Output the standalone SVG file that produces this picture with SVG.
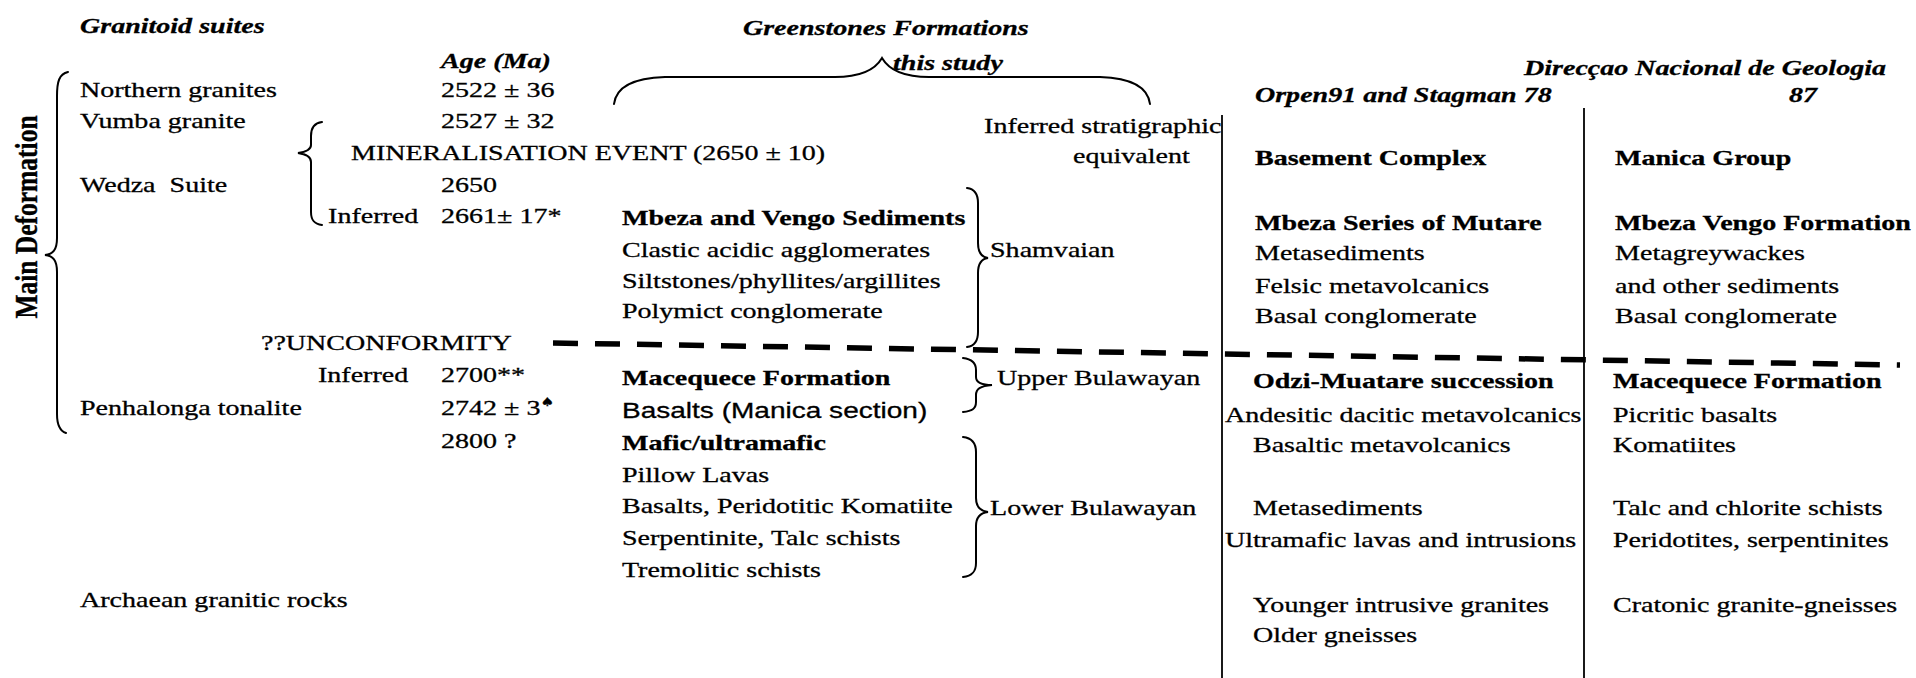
<svg xmlns="http://www.w3.org/2000/svg" width="1916" height="678" viewBox="0 0 1916 678">
<style>
text{font-family:"Liberation Serif","Times New Roman",serif;font-size:22px;fill:#000;stroke:#000;stroke-width:0.3}
.b{font-weight:bold}
.bi{font-weight:bold;font-style:italic}
.s{font-family:"Liberation Sans",Arial,sans-serif}
.md{font-size:25.5px}
.br{fill:none;stroke:#000;stroke-width:2;stroke-linecap:round}
.vl{stroke:#000;stroke-width:1.8}
.dash{stroke:#000;stroke-width:5.5;stroke-dasharray:25 17}
.sup{font-size:12px;font-family:"DejaVu Sans",sans-serif}
</style>
<rect width="1916" height="678" fill="#fff"/>
<g id="connectors">
<path class="br" d="M68,72 C59,74 57,82 57,96 L57,238 C57,250 53,254 45,255 C53,256 57,260 57,272 L57,414 C57,426 60,431 66,433"/>
<path class="br" d="M322,122 C314,123 311,128 311,136 L311,145 C311,150 305,152 298,153 C305,154 311,156 311,162 L311,212 C311,220 314,224 322,225"/>
<path class="br" d="M614,104 C616,88 632,78 665,77 L835,77 C860,77 875,70 882,58 C889,70 904,77 929,77 L1100,77 C1132,78 1148,88 1150,104"/>
<path class="br" d="M967,188 C975,189 978,194 978,203 L978,243 C978,252 981,257 988,258 C981,259 978,264 978,273 L978,332 C978,341 975,346 967,347"/>
<path class="br" d="M963,358 C972,359 976,363 976,370 L976,377 C976,382 980,385 992,385 C980,386 976,389 976,395 L976,402 C976,409 972,411 963,412"/>
<path class="br" d="M963,437 C972,438 976,443 976,452 L976,498 C976,507 980,511 988,512 C980,513 976,517 976,526 L976,563 C976,572 972,576 963,577"/>
<line class="vl" x1="1222" y1="115" x2="1222" y2="678"/>
<line class="vl" x1="1584" y1="108" x2="1584" y2="678"/>
<line class="dash" x1="553" y1="343" x2="1900" y2="365"/>
</g>
<g id="texts" transform="scale(1.275 1)">
<g id="side-label"><text class="b md" text-anchor="middle" transform="translate(29 217) rotate(-90)">Main Deformation</text></g>
<g id="granitoid">
<text class="bi" x="62.75" y="33">Granitoid suites</text>
<text class="bi" x="345.9" y="68">Age (Ma)</text>
<text x="62.75" y="97">Northern granites</text>
<text x="345.9" y="97">2522 ± 36</text>
<text x="62.75" y="128">Vumba granite</text>
<text x="345.9" y="128">2527 ± 32</text>
<text x="275.3" y="160">MINERALISATION EVENT (2650 ± 10)</text>
<text x="62.75" y="192" xml:space="preserve">Wedza  Suite</text>
<text x="345.9" y="192">2650</text>
<text x="257.3" y="223">Inferred</text>
<text x="345.9" y="223">2661± 17*</text>
<text x="204.7" y="350">??UNCONFORMITY</text>
<text x="249.4" y="382">Inferred</text>
<text x="345.9" y="382">2700**</text>
<text x="62.75" y="415">Penhalonga tonalite</text>
<text x="345.9" y="415">2742 ± 3<tspan class="sup" dy="-9">♠</tspan></text>
<text x="345.9" y="448">2800 ?</text>
<text x="62.75" y="607">Archaean granitic rocks</text>
</g>
<g id="greenstones">
<text class="bi" x="582.7" y="35">Greenstones Formations</text>
<text class="bi" x="700.4" y="70">this study</text>
<text x="771.8" y="133">Inferred stratigraphic</text>
<text x="841.6" y="163">equivalent</text>
</g>
<g id="shamvaian">
<text class="b" x="487.8" y="225">Mbeza and Vengo Sediments</text>
<text x="487.8" y="257">Clastic acidic agglomerates</text>
<text x="487.8" y="288">Siltstones/phyllites/argillites</text>
<text x="487.8" y="318">Polymict conglomerate</text>
<text x="776.5" y="257">Shamvaian</text>
</g>
<g id="upper-bulawayan">
<text class="b" x="487.8" y="385">Macequece Formation</text>
<text class="s" x="487.8" y="418">Basalts (Manica section)</text>
<text x="782" y="385">Upper Bulawayan</text>
</g>
<g id="lower-bulawayan">
<text class="b" x="487.8" y="450">Mafic/ultramafic</text>
<text x="487.8" y="482">Pillow Lavas</text>
<text x="487.8" y="513">Basalts, Peridotitic Komatiite</text>
<text x="487.8" y="545">Serpentinite, Talc schists</text>
<text x="487.8" y="577">Tremolitic schists</text>
<text x="776.5" y="515">Lower Bulawayan</text>
</g>
<g id="orpen">
<text class="bi" x="984.3" y="102">Orpen91 and Stagman 78</text>
<text class="b" x="984.3" y="165">Basement Complex</text>
<text class="b" x="984.3" y="230">Mbeza Series of Mutare</text>
<text x="984.3" y="260">Metasediments</text>
<text x="984.3" y="293">Felsic metavolcanics</text>
<text x="984.3" y="323">Basal conglomerate</text>
<text class="b" x="982.7" y="388">Odzi-Muatare succession</text>
<text x="960.8" y="422">Andesitic dacitic metavolcanics</text>
<text x="982.7" y="452">Basaltic metavolcanics</text>
<text x="982.7" y="515">Metasediments</text>
<text x="960.8" y="547">Ultramafic lavas and intrusions</text>
<text x="982.7" y="612">Younger intrusive granites</text>
<text x="982.7" y="642">Older gneisses</text>
</g>
<g id="dng">
<text class="bi" x="1195.3" y="75">Direcçao Nacional de Geologia</text>
<text class="bi" x="1403.1" y="102">87</text>
<text class="b" x="1266.7" y="165">Manica Group</text>
<text class="b" x="1266.7" y="230">Mbeza Vengo Formation</text>
<text x="1266.7" y="260">Metagreywackes</text>
<text x="1266.7" y="293">and other sediments</text>
<text x="1266.7" y="323">Basal conglomerate</text>
<text class="b" x="1265.1" y="388">Macequece Formation</text>
<text x="1265.1" y="422">Picritic basalts</text>
<text x="1265.1" y="452">Komatiites</text>
<text x="1265.1" y="515">Talc and chlorite schists</text>
<text x="1265.1" y="547">Peridotites, serpentinites</text>
<text x="1265.1" y="612">Cratonic granite-gneisses</text>
</g>
</g>
</svg>
